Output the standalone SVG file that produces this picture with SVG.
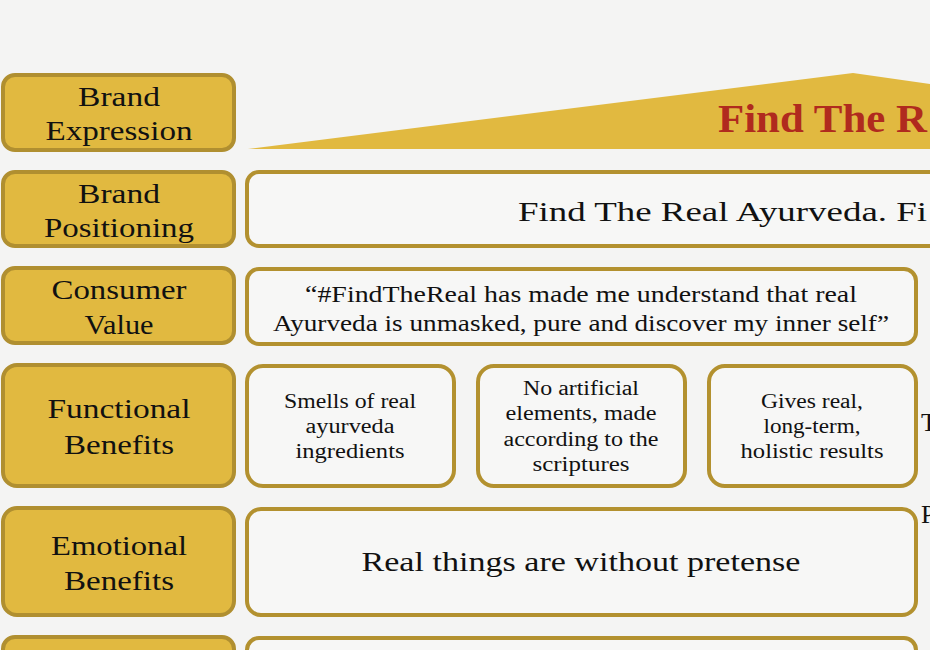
<svg xmlns="http://www.w3.org/2000/svg" width="930" height="650" viewBox="0 0 930 650">
<defs>
<style>
.lbl{fill:#E1B940;stroke:#B08F30;stroke-width:4}
.box{fill:#F7F7F6;stroke:#B3912F;stroke-width:4}
.t{font-family:"Liberation Serif","Times New Roman",serif;fill:#111;text-anchor:middle}
.lt{font-size:28px}
.bt{font-size:28px}
.cv{font-size:24px}
.fb{font-size:20px}
.hd{font-family:"Liberation Serif","Times New Roman",serif;font-weight:bold;fill:#B02A1E;font-size:39px}
</style>
</defs>
<rect width="930" height="650" fill="#F4F4F3"/>
<g id="connectors"/>
<g id="banner">
<polygon points="248,149 853,73 930,84 930,149" fill="#E1B940"/>
<text class="hd" x="718" y="132" textLength="209" lengthAdjust="spacingAndGlyphs">Find The R</text>
</g>
<g id="label-brand-expression">
<rect class="lbl" x="3" y="75" width="231" height="75" rx="12"/>
<text class="t lt" x="119" y="106" textLength="82" lengthAdjust="spacingAndGlyphs">Brand</text>
<text class="t lt" x="119" y="140" textLength="147" lengthAdjust="spacingAndGlyphs">Expression</text>
</g>
<g id="label-brand-positioning">
<rect class="lbl" x="3" y="172" width="231" height="74" rx="12"/>
<text class="t lt" x="119" y="203" textLength="82" lengthAdjust="spacingAndGlyphs">Brand</text>
<text class="t lt" x="119" y="237" textLength="150" lengthAdjust="spacingAndGlyphs">Positioning</text>
</g>
<g id="label-consumer-value">
<rect class="lbl" x="3" y="268" width="231" height="75" rx="12"/>
<text class="t lt" x="119" y="299" textLength="135" lengthAdjust="spacingAndGlyphs">Consumer</text>
<text class="t lt" x="119" y="334" textLength="69" lengthAdjust="spacingAndGlyphs">Value</text>
</g>
<g id="label-functional-benefits">
<rect class="lbl" x="3" y="365" width="231" height="121" rx="14"/>
<text class="t lt" x="119" y="418" textLength="143" lengthAdjust="spacingAndGlyphs">Functional</text>
<text class="t lt" x="119" y="454" textLength="110" lengthAdjust="spacingAndGlyphs">Benefits</text>
</g>
<g id="label-emotional-benefits">
<rect class="lbl" x="3" y="508" width="231" height="107" rx="14"/>
<text class="t lt" x="119" y="555" textLength="136" lengthAdjust="spacingAndGlyphs">Emotional</text>
<text class="t lt" x="119" y="590" textLength="110" lengthAdjust="spacingAndGlyphs">Benefits</text>
</g>
<g id="label-bottom">
<rect class="lbl" x="3" y="637" width="231" height="60" rx="12"/>
</g>
<g id="positioning">
<rect class="box" x="247" y="172" width="720" height="74" rx="12"/>
<text class="t bt" x="518" y="221" style="text-anchor:start" textLength="409" lengthAdjust="spacingAndGlyphs">Find The Real Ayurveda. Fi</text>
</g>
<g id="consumer-value">
<rect class="box" x="247" y="269" width="669" height="75" rx="12"/>
<text class="t cv" x="581" y="302" textLength="552" lengthAdjust="spacingAndGlyphs">“#FindTheReal has made me understand that real</text>
<text class="t cv" x="581" y="331" textLength="616" lengthAdjust="spacingAndGlyphs">Ayurveda is unmasked, pure and discover my inner self”</text>
</g>
<g id="functional-1">
<rect class="box" x="247" y="366" width="207" height="120" rx="16"/>
<text class="t fb" x="350" y="408" textLength="132" lengthAdjust="spacingAndGlyphs">Smells of real</text>
<text class="t fb" x="350" y="433" textLength="89" lengthAdjust="spacingAndGlyphs">ayurveda</text>
<text class="t fb" x="350" y="458" textLength="109" lengthAdjust="spacingAndGlyphs">ingredients</text>
</g>
<g id="functional-2">
<rect class="box" x="478" y="366" width="207" height="120" rx="16"/>
<text class="t fb" x="581" y="395" textLength="116" lengthAdjust="spacingAndGlyphs">No artificial</text>
<text class="t fb" x="581" y="420" textLength="151" lengthAdjust="spacingAndGlyphs">elements, made</text>
<text class="t fb" x="581" y="446" textLength="155" lengthAdjust="spacingAndGlyphs">according to the</text>
<text class="t fb" x="581" y="471" textLength="97" lengthAdjust="spacingAndGlyphs">scriptures</text>
</g>
<g id="functional-3">
<rect class="box" x="709" y="366" width="207" height="120" rx="16"/>
<text class="t fb" x="812" y="408" textLength="102" lengthAdjust="spacingAndGlyphs">Gives real,</text>
<text class="t fb" x="812" y="433" textLength="97" lengthAdjust="spacingAndGlyphs">long-term,</text>
<text class="t fb" x="812" y="458" textLength="143" lengthAdjust="spacingAndGlyphs">holistic results</text>
</g>
<g id="emotional">
<rect class="box" x="247" y="509" width="669" height="106" rx="14"/>
<text class="t bt" x="581" y="571" textLength="439" lengthAdjust="spacingAndGlyphs">Real things are without pretense</text>
</g>
<g id="bottom-box">
<rect class="box" x="247" y="638" width="669" height="60" rx="12"/>
</g>
<g id="edge-text">
<text class="t" x="921" y="431" style="text-anchor:start;font-size:26px">T</text>
<text class="t" x="921" y="523" style="text-anchor:start;font-size:26px">P</text>
</g>
</svg>
